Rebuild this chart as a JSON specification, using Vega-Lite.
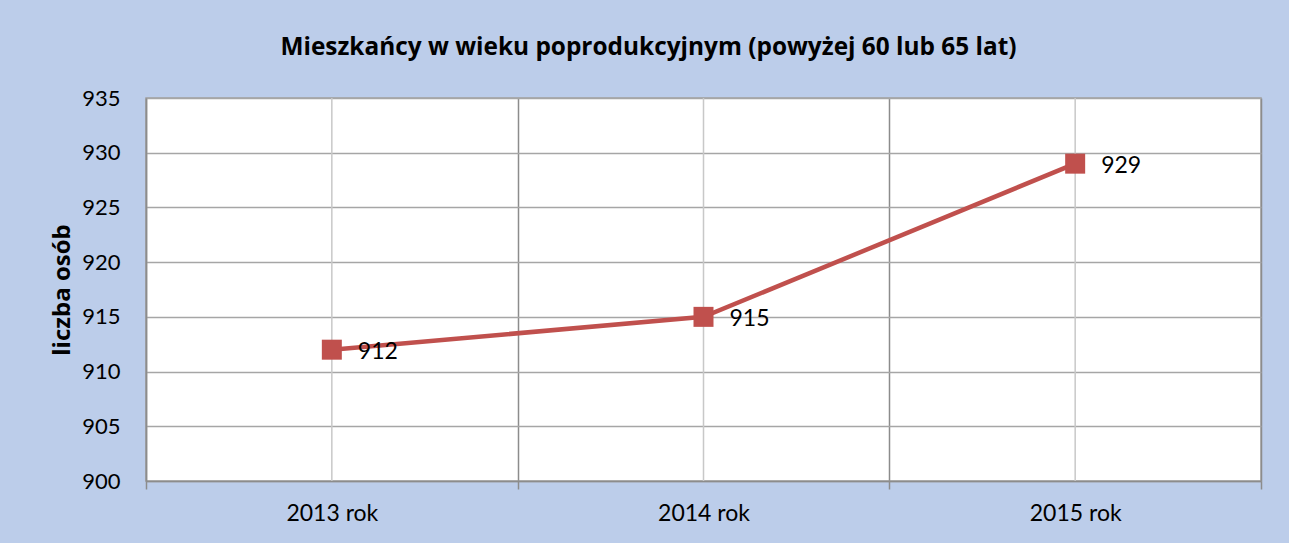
{
  "$schema": "https://vega.github.io/schema/vega-lite/v6.json",
  "width": 1115,
  "height": 383,
  "autosize": {"type": "none"},
  "padding": {"left": 146, "top": 98, "right": 28, "bottom": 62},
  "background": "#bccdea",
  "title": {
    "text": "Mieszkańcy w wieku poprodukcyjnym (powyżej 60 lub 65 lat)",
    "fontSize": 24.4,
    "fontWeight": "bold",
    "font": "Open Sans",
    "color": "#000000",
    "anchor": "middle",
    "frame": "group",
    "dx": -55,
    "offset": 27
  },
  "config": {
    "font": "Lato",
    "view": {"stroke": "#a0a0a0", "fill": "#ffffff", "strokeWidth": 1.5}
  },
  "data": {
    "values": [
      {"rok": "2013 rok", "liczba": 912},
      {"rok": "2014 rok", "liczba": 915},
      {"rok": "2015 rok", "liczba": 929}
    ]
  },
  "encoding": {
    "x": {
      "field": "rok",
      "type": "nominal",
      "sort": null,
      "scale": {"type": "band", "paddingInner": 0, "paddingOuter": 0},
      "axis": {
        "title": null,
        "tickBand": "extent",
        "grid": true,
        "gridColor": "#8c8c8c",
        "gridWidth": 1.5,
        "ticks": true,
        "tickSize": 8,
        "tickColor": "#8c8c8c",
        "tickWidth": 1.5,
        "domainColor": "#8c8c8c",
        "domainWidth": 1.5,
        "labelAngle": 0,
        "labelFontSize": 23,
        "labelColor": "#000000",
        "labelPadding": 13
      }
    }
  },
  "layer": [
    {
      "mark": {"type": "rule", "color": "#c8c8c8", "strokeWidth": 1.5},
      "encoding": {}
    },
    {
      "mark": {"type": "line", "color": "#c0504d", "strokeWidth": 4.5},
      "encoding": {
        "y": {
          "field": "liczba",
          "type": "quantitative",
          "scale": {"domain": [900, 935], "nice": false, "zero": false},
          "axis": {
            "values": [900, 905, 910, 915, 920, 925, 930, 935],
            "title": "liczba osób",
            "titleFont": "Open Sans",
            "titleFontSize": 24,
            "titleFontWeight": "bold",
            "titleColor": "#000000",
            "titlePadding": 7,
            "grid": true,
            "gridColor": "#a6a6a6",
            "gridWidth": 1.5,
            "ticks": false,
            "domainColor": "#8c8c8c",
            "domainWidth": 1.5,
            "labelFontSize": 22,
            "labelColor": "#000000",
            "labelPadding": 26
          }
        }
      }
    },
    {
      "mark": {"type": "point", "shape": "square", "size": 400, "filled": true, "color": "#c0504d", "opacity": 1},
      "encoding": {
        "y": {"field": "liczba", "type": "quantitative"}
      }
    },
    {
      "mark": {"type": "text", "align": "left", "baseline": "middle", "dx": 26, "dy": 2, "fontSize": 23, "color": "#000000"},
      "encoding": {
        "y": {"field": "liczba", "type": "quantitative"},
        "text": {"field": "liczba", "type": "quantitative"}
      }
    }
  ]
}
